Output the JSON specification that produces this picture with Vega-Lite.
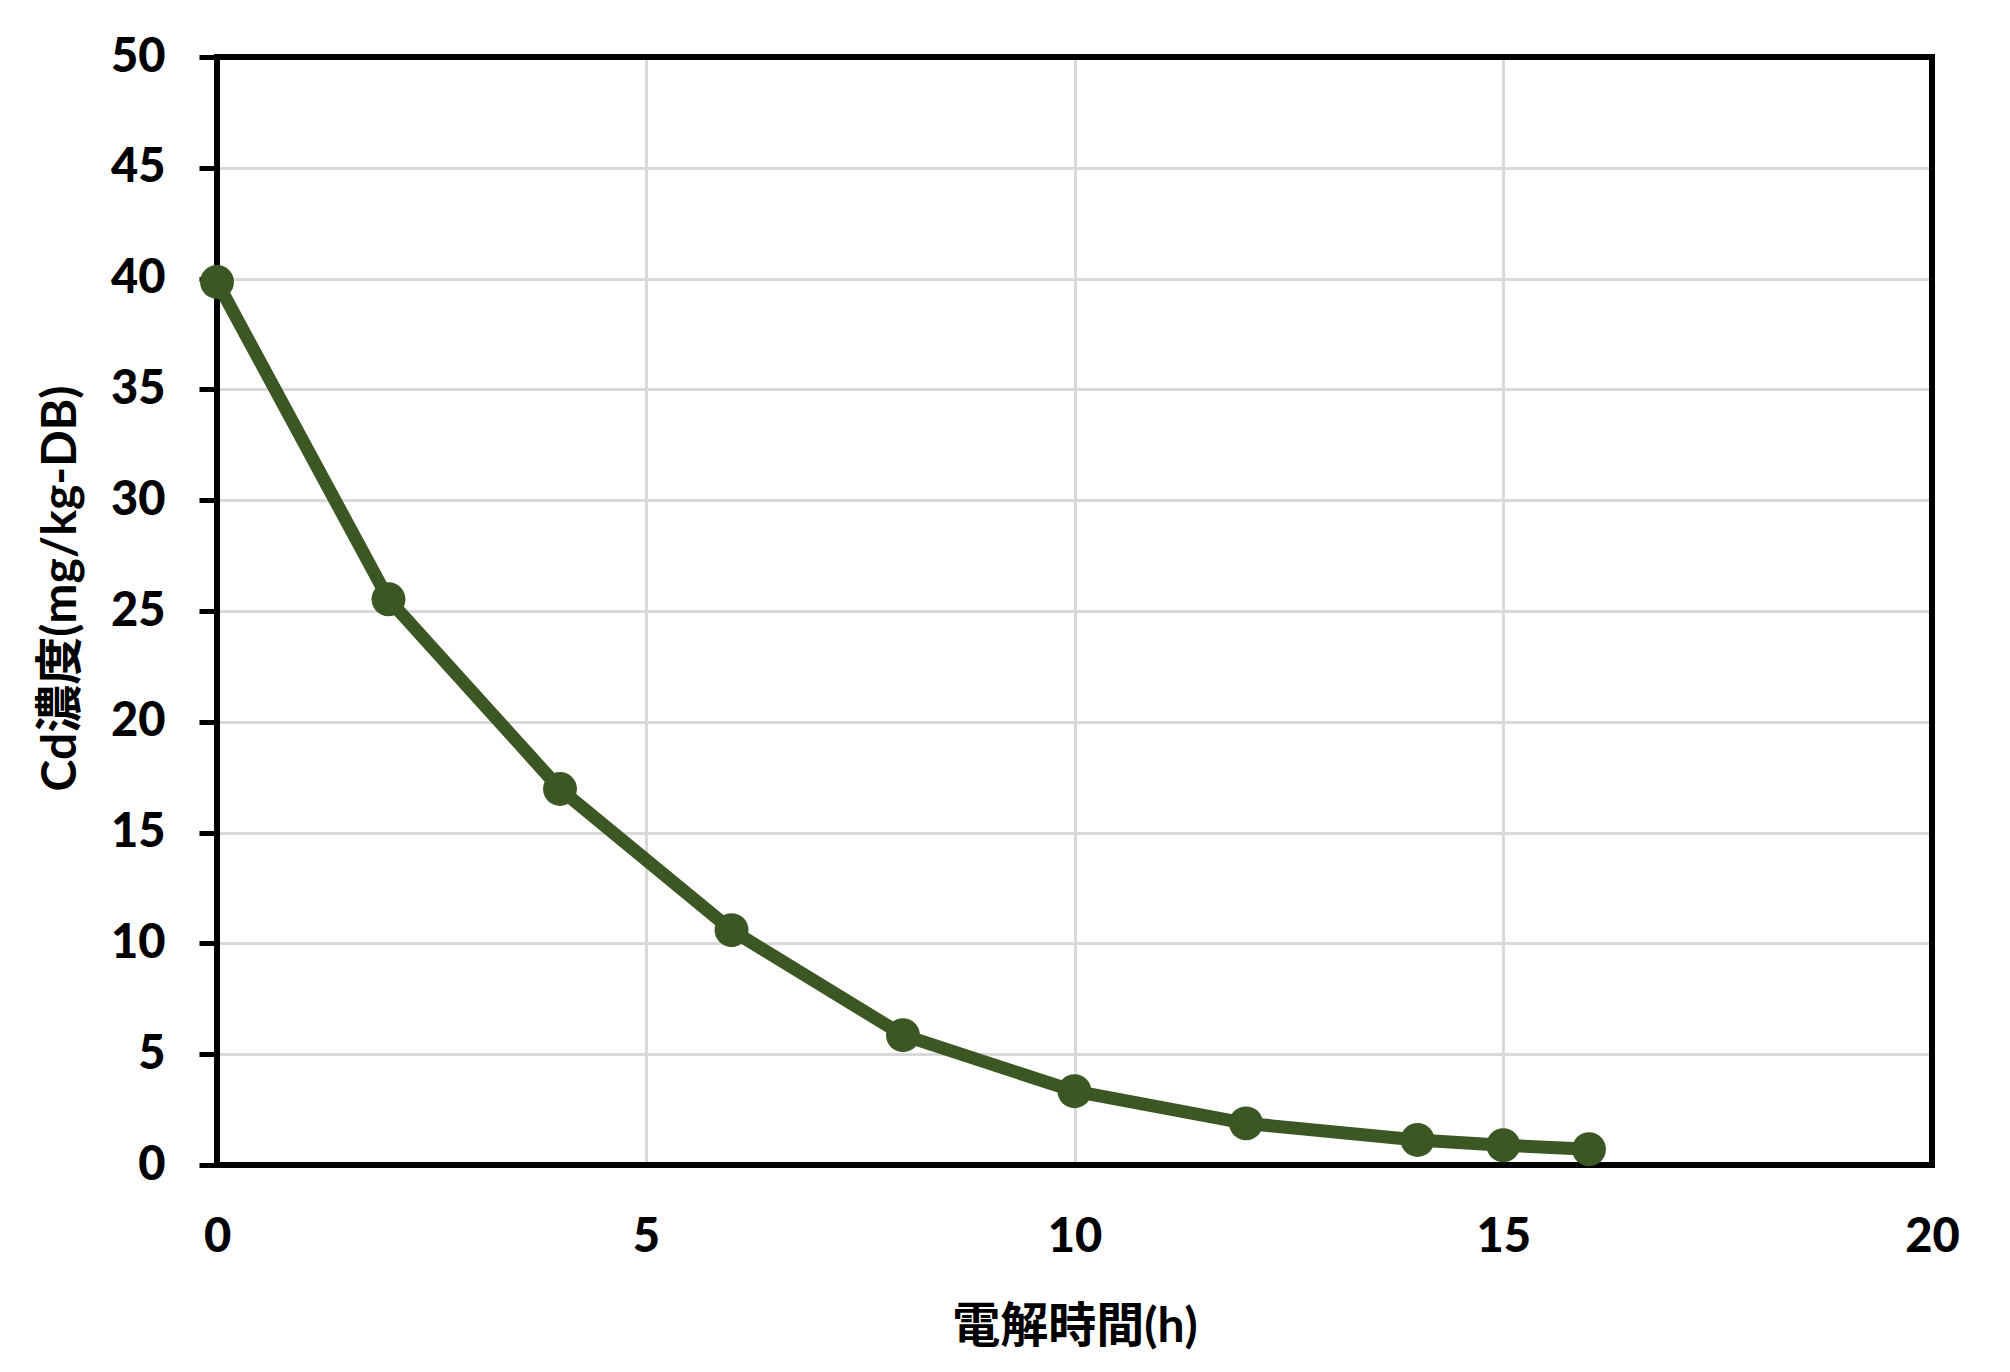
{
  "$schema": "https://vega.github.io/schema/vega-lite/v6.json",
  "width": 1715,
  "height": 1108,
  "autosize": {"type": "none"},
  "padding": {"left": 217, "top": 57, "right": 78, "bottom": 207},
  "background": "white",
  "config": {
    "view": {"stroke": null},
    "font": "Lato, Noto Sans CJK JP",
    "axis": {
      "labelFont": "Lato, Noto Sans CJK JP",
      "titleFont": "Lato, Noto Sans CJK JP",
      "labelFontSize": 47,
      "labelFontWeight": 900,
      "labelColor": "black",
      "titleFontSize": 48,
      "titleFontWeight": "bold",
      "titleColor": "black",
      "gridColor": "#d9d9d9",
      "gridWidth": 3,
      "domain": false
    }
  },
  "data": {
    "values": [
      {"time": 0, "cd": 39.85},
      {"time": 2, "cd": 25.53},
      {"time": 4, "cd": 16.97},
      {"time": 6, "cd": 10.6},
      {"time": 8, "cd": 5.86},
      {"time": 10, "cd": 3.33},
      {"time": 12, "cd": 1.88},
      {"time": 14, "cd": 1.13},
      {"time": 15, "cd": 0.89},
      {"time": 16, "cd": 0.71}
    ]
  },
  "encoding": {
    "x": {
      "field": "time",
      "type": "quantitative",
      "title": "電解時間(h)",
      "scale": {"domain": [0, 20], "nice": false},
      "axis": {
        "values": [0, 5, 10, 15, 20],
        "ticks": false,
        "tickSize": 0,
        "labelFlush": false,
        "labelPadding": 49,
        "labelBaseline": "top",
        "titleY": 162,
        "titleBaseline": "middle"
      }
    },
    "y": {
      "field": "cd",
      "type": "quantitative",
      "title": "Cd濃度(mg/kg-DB)",
      "scale": {"domain": [0, 50], "nice": false},
      "axis": {
        "values": [0, 5, 10, 15, 20, 25, 30, 35, 40, 45, 50],
        "ticks": true,
        "tickSize": 18,
        "tickWidth": 5,
        "tickColor": "black",
        "labelFlush": false,
        "labelPadding": 34,
        "titleAngle": -90,
        "titleX": -156,
        "titleY": 531,
        "titleAlign": "center",
        "titleBaseline": "middle"
      }
    }
  },
  "layer": [
    {
      "mark": {"type": "rect", "fill": null, "fillOpacity": 0, "stroke": "black", "strokeWidth": 6},
      "encoding": {
        "x": {"datum": 0, "type": "quantitative"},
        "x2": {"datum": 20},
        "y": {"datum": 0, "type": "quantitative"},
        "y2": {"datum": 50}
      }
    },
    {
      "mark": {"type": "line", "color": "#3b5723", "strokeWidth": 13}
    },
    {
      "mark": {"type": "point", "filled": true, "shape": "circle", "size": 1150, "color": "#3b5723", "opacity": 1}
    }
  ]
}
